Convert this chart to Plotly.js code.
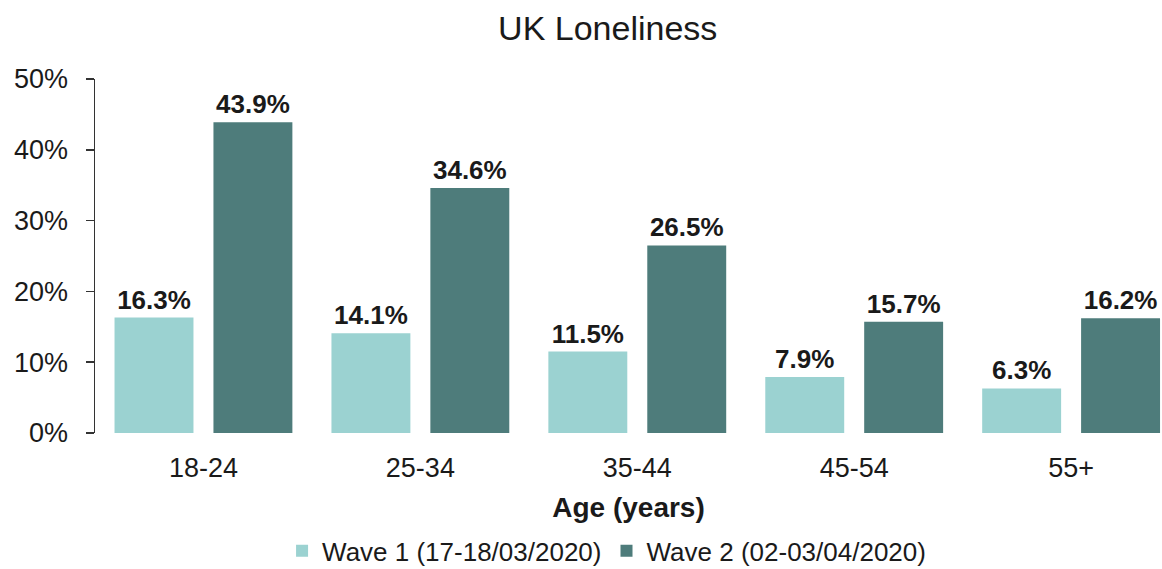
<!DOCTYPE html>
<html>
<head>
<meta charset="utf-8">
<script src="https://cdn.plot.ly/plotly-3.0.1.min.js"></script>
<style>html,body{margin:0;padding:0;background:#fff;}#chart{width:1162px;height:569px;}</style>
</head>
<body>
<div id="chart"></div>
<script>
const categories = ["18-24", "25-34", "35-44", "45-54", "55+"];
const wave1 = [16.3, 14.1, 11.5, 7.9, 6.3];
const wave2 = [43.9, 34.6, 26.5, 15.7, 16.2];
const seriesNames = ["Wave 1 (17-18/03/2020)", "Wave 2 (02-03/04/2020)"];
const yTickVals = [0, 10, 20, 30, 40, 50];
const yTickText = ["0%", "10%", "20%", "30%", "40%", "50%"];

const FONT = "Liberation Sans, Arial, sans-serif";
const TXT = "#1a1a1a";

const fmt = v => v.toFixed(1) + "%";

const data = [
  {
    type: "bar", name: seriesNames[0], x: categories, y: wave1,
    marker: {color: "#9bd2d1"},
    text: wave1.map(fmt), textposition: "outside", cliponaxis: false,
    textfont: {family: FONT, size: 26, color: TXT, weight: "bold"}
  },
  {
    type: "bar", name: seriesNames[1], x: categories, y: wave2,
    marker: {color: "#4e7c7b"},
    text: wave2.map(fmt), textposition: "outside", cliponaxis: false,
    textfont: {family: FONT, size: 26, color: TXT, weight: "bold"}
  }
];

const layout = {
  width: 1162, height: 569,
  margin: {l: 95, r: 0, t: 79, b: 136},
  paper_bgcolor: "#fff", plot_bgcolor: "#fff",
  font: {family: FONT, color: TXT},
  title: {text: "UK Loneliness", font: {family: FONT, size: 34, color: TXT}, xref: "container", x: 0.523, xanchor: "center", yref: "container", y: 0.95, yanchor: "middle"},
  bargap: 0.088, bargroupgap: 0.202,
  showlegend: true,
  legend: {orientation: "h", xref: "container", x: 0.522, xanchor: "center", yref: "container", y: 0.032, yanchor: "middle",
    font: {family: FONT, size: 26, color: TXT}, itemwidth: 30, traceorder: "normal"},
  xaxis: {
    type: "category", range: [-0.5, 4.419], showline: false, ticks: "", showgrid: false,
    ticklabelstandoff: 16,
    tickfont: {family: FONT, size: 27, color: TXT},
    title: {text: "Age (years)", font: {family: FONT, size: 28, color: TXT, weight: "bold"}, standoff: 15}
  },
  yaxis: {
    range: [0, 50], tickvals: yTickVals, ticktext: yTickText,
    showline: true, linecolor: "#333", linewidth: 1.5,
    ticks: "outside", ticklen: 8, tickcolor: "#333", tickwidth: 1.5,
    ticklabelstandoff: 12,
    showgrid: false, zeroline: false,
    tickfont: {family: FONT, size: 27, color: TXT}
  }
};

Plotly.newPlot("chart", data, layout, {displayModeBar: false, staticPlot: true});
</script>
</body>
</html>
